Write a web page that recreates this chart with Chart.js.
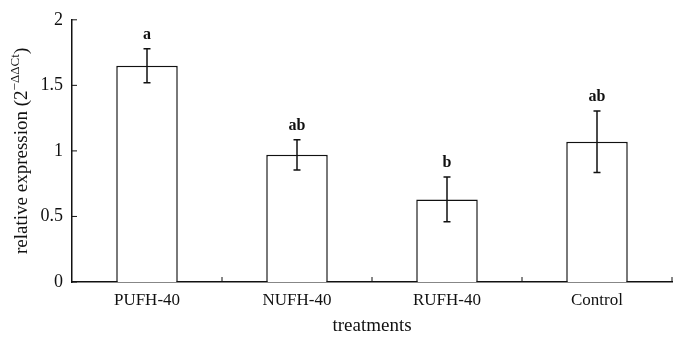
<!DOCTYPE html>
<html>
<head>
<meta charset="utf-8">
<script src="https://cdn.jsdelivr.net/npm/chart.js@4"></script>
<style>
  html, body { margin: 0; padding: 0; background: #fff; }
  #wrap { width: 679px; height: 341px; }
</style>
</head>
<body>
<div id="wrap"><canvas id="chart"></canvas></div>
<script>
// data
const treatments = ['PUFH-40', 'NUFH-40', 'RUFH-40', 'Control'];
const expression = [1.65, 0.97, 0.63, 1.07];
const errors = [0.13, 0.115, 0.17, 0.235];
const letters = ['a', 'ab', 'b', 'ab'];
const yTicks = [0, 0.5, 1, 1.5, 2];

const serif = '"Liberation Serif", "Times New Roman", serif';

// error bars, significance letters and inward ticks
const extras = {
    id: 'extras',
    afterDatasetsDraw(chart) {
        const ctx = chart.ctx;
        const y = chart.scales.y;
        const x = chart.scales.x;
        const bars = chart.getDatasetMeta(0).data;
        ctx.save();
        ctx.strokeStyle = '#111';
        ctx.lineWidth = 1.5;
        bars.forEach((bar, i) => {
            const top = y.getPixelForValue(expression[i] + errors[i]);
            const bot = y.getPixelForValue(expression[i] - errors[i]);
            ctx.beginPath();
            ctx.moveTo(bar.x, top); ctx.lineTo(bar.x, bot);
            ctx.moveTo(bar.x - 3.5, top); ctx.lineTo(bar.x + 3.5, top);
            ctx.moveTo(bar.x - 3.5, bot); ctx.lineTo(bar.x + 3.5, bot);
            ctx.stroke();
            ctx.fillStyle = '#111';
            ctx.font = 'bold 16px ' + serif;
            ctx.textAlign = 'center';
            ctx.textBaseline = 'alphabetic';
            ctx.fillText(letters[i], bar.x, top - 10);
        });
        // inward ticks on the y axis
        ctx.lineWidth = 1;
        ctx.beginPath();
        yTicks.forEach(v => {
            const py = y.getPixelForValue(v);
            ctx.moveTo(x.left, py); ctx.lineTo(x.left + 5, py);
        });
        // inward ticks at category boundaries
        const half = (x.getPixelForValue(1) - x.getPixelForValue(0)) / 2;
        treatments.forEach((t, i) => {
            const px = x.getPixelForValue(i) + half;
            ctx.moveTo(px, y.bottom); ctx.lineTo(px, y.bottom - 5);
        });
        ctx.stroke();

        // y axis title with superscript
        ctx.translate(22, (y.top + y.bottom) / 2);
        ctx.rotate(-Math.PI / 2);
        ctx.fillStyle = '#111';
        ctx.textBaseline = 'middle';
        const main = 'relative expression (2';
        const sup = '\u2212\u0394\u0394Ct';
        ctx.font = '19px ' + serif;
        const w1 = ctx.measureText(main).width;
        const w3 = ctx.measureText(')').width;
        ctx.font = '13px ' + serif;
        const w2 = ctx.measureText(sup).width;
        let sx = -(w1 + w2 + w3) / 2;
        ctx.textAlign = 'left';
        ctx.font = '19px ' + serif;
        ctx.fillText(main, sx, 0);
        ctx.font = '13px ' + serif;
        ctx.fillText(sup, sx + w1, -6);
        ctx.font = '19px ' + serif;
        ctx.fillText(')', sx + w1 + w2, 0);
        ctx.restore();
    }
};

new Chart(document.getElementById('chart'), {
    type: 'bar',
    data: {
        labels: treatments,
        datasets: [{
            data: expression,
            backgroundColor: '#fff',
            borderColor: '#111',
            borderWidth: 1.5,
            categoryPercentage: 1,
            barPercentage: 0.41
        }]
    },
    options: {
        responsive: true,
        maintainAspectRatio: false,
        animation: false,
        layout: { padding: { top: 15, right: 7, left: 0, bottom: 0 } },
        plugins: {
            legend: { display: false },
            tooltip: { enabled: false }
        },
        scales: {
            x: {
                grid: { display: false, drawTicks: false },
                border: { color: '#111', width: 1.5 },
                ticks: { color: '#111', font: { family: serif, size: 17 }, padding: 8, maxRotation: 0 },
                title: { display: true, text: 'treatments', color: '#111', font: { family: serif, size: 19 }, padding: 4 },
                afterFit(scale) { scale.height = 59; }
            },
            y: {
                min: 0,
                max: 2,
                afterBuildTicks(scale) { scale.ticks = yTicks.map(v => ({ value: v })); },
                grid: { display: false, drawTicks: false },
                border: { color: '#111', width: 1.5 },
                ticks: { color: '#111', font: { family: serif, size: 18 }, padding: 9, callback: v => String(v) },
                afterFit(scale) { scale.width = 72; }
            }
        }
    },
    plugins: [extras]
});
</script>
</body>
</html>
